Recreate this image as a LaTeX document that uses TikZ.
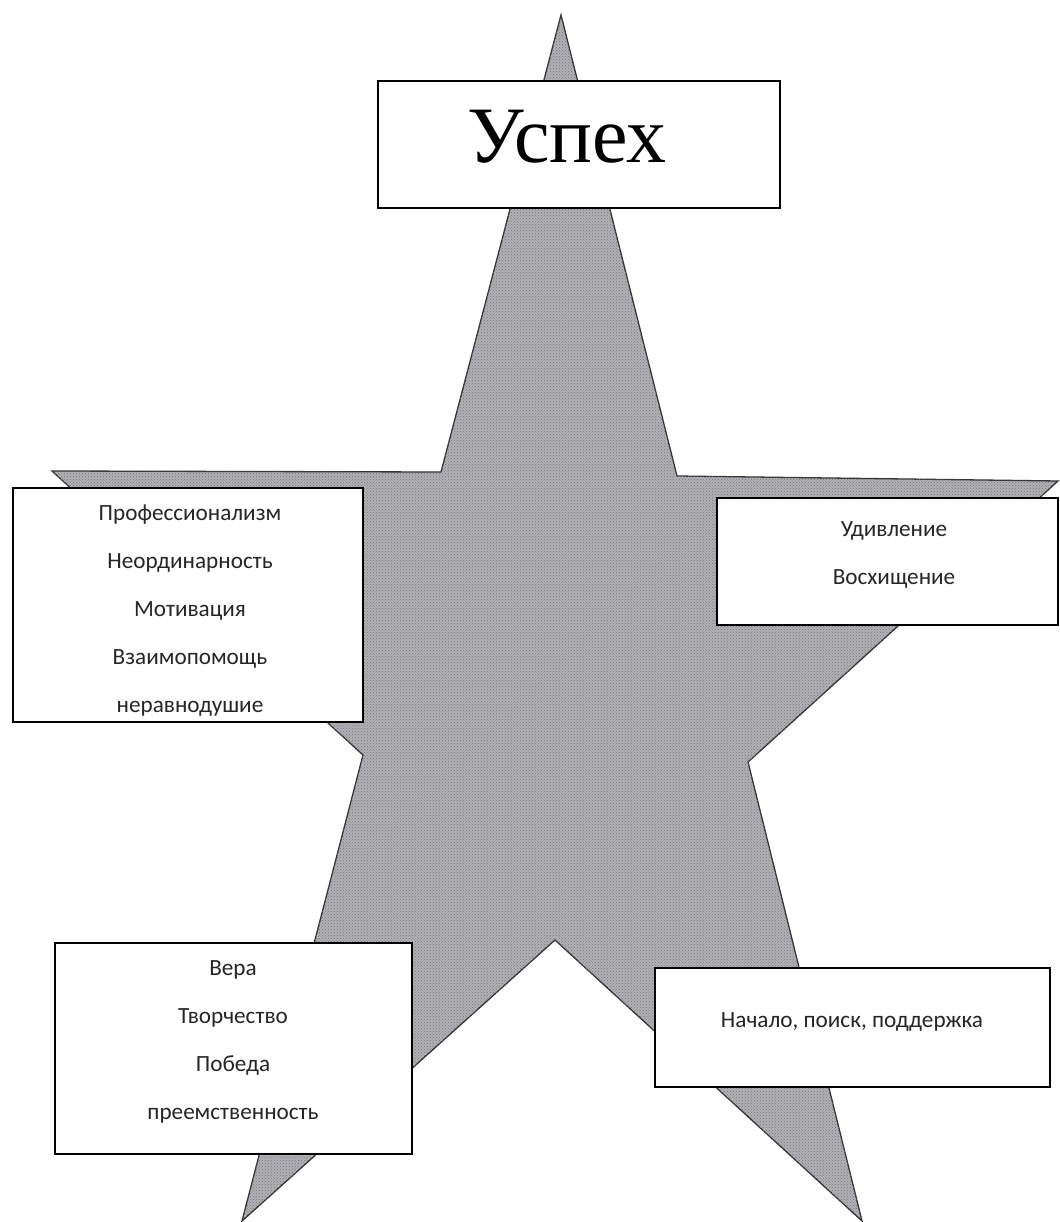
\documentclass[tikz,border=0pt]{standalone}
\usepackage{fontspec}
\setmainfont{Carlito}
\newfontfamily\titlefont{Liberation Serif}
\usetikzlibrary{patterns}
\definecolor{stargray}{RGB}{176,176,181}
\definecolor{dotgray}{RGB}{118,118,124}
\begin{document}
\begin{tikzpicture}[x=1pt,y=-1pt,
  box/.style={draw=black, line width=1.8pt, fill=white, rectangle, inner sep=0pt},
  lbl/.style={font=\fontsize{23.2}{48}\selectfont, align=center, inner sep=0pt, text=black!85},
  starshape/.style={fill=stargray, draw=black!80, line width=1.3pt}]
\useasboundingbox (0,0) rectangle (1059,1222);
% star
\coordinate (T) at (561,15);
\coordinate (ITR) at (677,476);
\coordinate (R) at (1058,481);
\coordinate (IBR) at (748,762);
\coordinate (BR) at (862,1221);
\coordinate (IB) at (555,940);
\coordinate (BL) at (242,1221);
\coordinate (IBL) at (363,755);
\coordinate (L) at (52,471);
\coordinate (ITL) at (441,472);
\draw[starshape] (T) -- (ITR) -- (R) -- (IBR) -- (BR) -- (IB) -- (BL) -- (IBL) -- (L) -- (ITL) -- cycle;
\fill[pattern=crosshatch dots, pattern color=dotgray] (T) -- (ITR) -- (R) -- (IBR) -- (BR) -- (IB) -- (BL) -- (IBL) -- (L) -- (ITL) -- cycle;
% boxes
\node[box, minimum width=402, minimum height=127] (titlebox) at (579,144.5) {};
\node[font=\titlefont\fontsize{80}{86}\selectfont, anchor=base, inner sep=0pt] (title) at (567,163) {Успех};

\node[box, minimum width=350, minimum height=234] (leftbox) at (188,605) {};
\node[lbl] (lefttext) at (190,610.5) {Профессионализм\\Неординарность\\Мотивация\\Взаимопомощь\\неравнодушие};

\node[box, minimum width=341, minimum height=127] (rightbox) at (887.5,561.5) {};
\node[lbl] (righttext) at (894,554.5) {Удивление\\Восхищение};

\node[box, minimum width=357, minimum height=211] (blbox) at (233.5,1048.5) {};
\node[lbl] (bltext) at (233,1042) {Вера\\Творчество\\Победа\\преемственность};

\node[box, minimum width=395, minimum height=119] (brbox) at (852.5,1027.5) {};
\node[lbl] (brtext) at (852,1022) {Начало, поиск, поддержка};
\end{tikzpicture}
\end{document}
